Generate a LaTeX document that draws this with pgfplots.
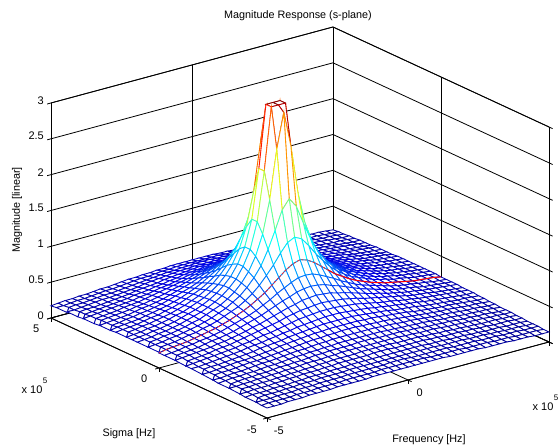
\documentclass[border=0pt]{standalone}
\usepackage{fontspec}
\setmainfont{Liberation Sans}
\usepackage{pgfplots}
\usepackage{pgfplotstable}
\pgfplotsset{compat=1.18}
\usetikzlibrary{calc}
\colorlet{edgecol}{blue!70!black}
\let\origmapdef\pgfplotscolormapdefinemappedcolor
\def\pgfplotscolormapdefinemappedcolor#1{\origmapdef{#1}\colorlet{edgecol}{mapped color}\colorlet{mapped color}{white}}
\let\origfill\pgfsetfillcolor
\def\pgfsetfillcolor#1{\origfill{white}}
\pgfplotstableread{
i z
0 0.14
1 0.14
2 0.14
3 0.15
4 0.15
5 0.15
6 0.16
7 0.16
8 0.16
9 0.16
10 0.17
11 0.17
12 0.17
13 0.17
14 0.17
15 0.18
16 0.18
17 0.18
18 0.18
19 0.18
20 0.18
21 0.18
22 0.18
23 0.18
24 0.18
25 0.18
26 0.17
27 0.17
28 0.17
29 0.17
30 0.17
31 0.16
32 0.16
33 0.16
34 0.16
35 0.15
36 0.15
37 0.15
38 0.14
39 0.14
40 0.14
0 0.14
1 0.15
2 0.15
3 0.15
4 0.15
5 0.16
6 0.16
7 0.16
8 0.17
9 0.17
10 0.17
11 0.17
12 0.18
13 0.18
14 0.18
15 0.18
16 0.18
17 0.19
18 0.19
19 0.19
20 0.19
21 0.19
22 0.19
23 0.19
24 0.18
25 0.18
26 0.18
27 0.18
28 0.18
29 0.17
30 0.17
31 0.17
32 0.17
33 0.16
34 0.16
35 0.16
36 0.15
37 0.15
38 0.15
39 0.15
40 0.14
0 0.15
1 0.15
2 0.15
3 0.16
4 0.16
5 0.16
6 0.17
7 0.17
8 0.17
9 0.18
10 0.18
11 0.18
12 0.18
13 0.19
14 0.19
15 0.19
16 0.19
17 0.19
18 0.19
19 0.20
20 0.20
21 0.20
22 0.19
23 0.19
24 0.19
25 0.19
26 0.19
27 0.19
28 0.18
29 0.18
30 0.18
31 0.18
32 0.17
33 0.17
34 0.17
35 0.16
36 0.16
37 0.16
38 0.15
39 0.15
40 0.15
0 0.15
1 0.15
2 0.16
3 0.16
4 0.16
5 0.17
6 0.17
7 0.18
8 0.18
9 0.18
10 0.19
11 0.19
12 0.19
13 0.19
14 0.20
15 0.20
16 0.20
17 0.20
18 0.20
19 0.20
20 0.20
21 0.20
22 0.20
23 0.20
24 0.20
25 0.20
26 0.20
27 0.19
28 0.19
29 0.19
30 0.19
31 0.18
32 0.18
33 0.18
34 0.17
35 0.17
36 0.16
37 0.16
38 0.16
39 0.15
40 0.15
0 0.15
1 0.16
2 0.16
3 0.16
4 0.17
5 0.17
6 0.17
7 0.18
8 0.18
9 0.19
10 0.19
11 0.19
12 0.20
13 0.20
14 0.20
15 0.21
16 0.21
17 0.21
18 0.21
19 0.21
20 0.21
21 0.21
22 0.21
23 0.21
24 0.21
25 0.21
26 0.20
27 0.20
28 0.20
29 0.19
30 0.19
31 0.19
32 0.18
33 0.18
34 0.17
35 0.17
36 0.17
37 0.16
38 0.16
39 0.16
40 0.15
0 0.16
1 0.16
2 0.17
3 0.17
4 0.17
5 0.18
6 0.18
7 0.19
8 0.19
9 0.20
10 0.20
11 0.20
12 0.21
13 0.21
14 0.22
15 0.22
16 0.22
17 0.22
18 0.22
19 0.23
20 0.23
21 0.23
22 0.22
23 0.22
24 0.22
25 0.22
26 0.22
27 0.21
28 0.21
29 0.20
30 0.20
31 0.20
32 0.19
33 0.19
34 0.18
35 0.18
36 0.17
37 0.17
38 0.17
39 0.16
40 0.16
0 0.16
1 0.17
2 0.17
3 0.18
4 0.18
5 0.18
6 0.19
7 0.19
8 0.20
9 0.20
10 0.21
11 0.21
12 0.22
13 0.22
14 0.23
15 0.23
16 0.23
17 0.23
18 0.24
19 0.24
20 0.24
21 0.24
22 0.24
23 0.23
24 0.23
25 0.23
26 0.23
27 0.22
28 0.22
29 0.21
30 0.21
31 0.20
32 0.20
33 0.19
34 0.19
35 0.18
36 0.18
37 0.18
38 0.17
39 0.17
40 0.16
0 0.17
1 0.17
2 0.18
3 0.18
4 0.19
5 0.19
6 0.20
7 0.20
8 0.21
9 0.21
10 0.22
11 0.23
12 0.23
13 0.23
14 0.24
15 0.24
16 0.25
17 0.25
18 0.25
19 0.25
20 0.25
21 0.25
22 0.25
23 0.25
24 0.25
25 0.24
26 0.24
27 0.23
28 0.23
29 0.23
30 0.22
31 0.21
32 0.21
33 0.20
34 0.20
35 0.19
36 0.19
37 0.18
38 0.18
39 0.17
40 0.17
0 0.17
1 0.17
2 0.18
3 0.19
4 0.19
5 0.20
6 0.20
7 0.21
8 0.22
9 0.22
10 0.23
11 0.23
12 0.24
13 0.25
14 0.25
15 0.26
16 0.26
17 0.26
18 0.26
19 0.27
20 0.27
21 0.27
22 0.26
23 0.26
24 0.26
25 0.26
26 0.25
27 0.25
28 0.24
29 0.23
30 0.23
31 0.22
32 0.22
33 0.21
34 0.20
35 0.20
36 0.19
37 0.19
38 0.18
39 0.17
40 0.17
0 0.17
1 0.18
2 0.19
3 0.19
4 0.20
5 0.20
6 0.21
7 0.22
8 0.22
9 0.23
10 0.24
11 0.25
12 0.25
13 0.26
14 0.26
15 0.27
16 0.27
17 0.28
18 0.28
19 0.28
20 0.28
21 0.28
22 0.28
23 0.28
24 0.27
25 0.27
26 0.26
27 0.26
28 0.25
29 0.25
30 0.24
31 0.23
32 0.22
33 0.22
34 0.21
35 0.20
36 0.20
37 0.19
38 0.19
39 0.18
40 0.17
0 0.18
1 0.18
2 0.19
3 0.20
4 0.20
5 0.21
6 0.22
7 0.23
8 0.23
9 0.24
10 0.25
11 0.26
12 0.27
13 0.27
14 0.28
15 0.29
16 0.29
17 0.30
18 0.30
19 0.30
20 0.30
21 0.30
22 0.30
23 0.30
24 0.29
25 0.29
26 0.28
27 0.27
28 0.27
29 0.26
30 0.25
31 0.24
32 0.23
33 0.23
34 0.22
35 0.21
36 0.20
37 0.20
38 0.19
39 0.18
40 0.18
0 0.18
1 0.19
2 0.20
3 0.20
4 0.21
5 0.22
6 0.23
7 0.23
8 0.24
9 0.25
10 0.26
11 0.27
12 0.28
13 0.29
14 0.30
15 0.31
16 0.31
17 0.32
18 0.32
19 0.33
20 0.33
21 0.33
22 0.32
23 0.32
24 0.31
25 0.31
26 0.30
27 0.29
28 0.28
29 0.27
30 0.26
31 0.25
32 0.24
33 0.23
34 0.23
35 0.22
36 0.21
37 0.20
38 0.20
39 0.19
40 0.18
0 0.19
1 0.19
2 0.20
3 0.21
4 0.22
5 0.23
6 0.23
7 0.24
8 0.25
9 0.26
10 0.27
11 0.29
12 0.30
13 0.31
14 0.32
15 0.33
16 0.34
17 0.34
18 0.35
19 0.35
20 0.35
21 0.35
22 0.35
23 0.34
24 0.34
25 0.33
26 0.32
27 0.31
28 0.30
29 0.29
30 0.27
31 0.26
32 0.25
33 0.24
34 0.23
35 0.23
36 0.22
37 0.21
38 0.20
39 0.19
40 0.19
0 0.19
1 0.20
2 0.21
3 0.21
4 0.22
5 0.23
6 0.24
7 0.25
8 0.26
9 0.28
10 0.29
11 0.30
12 0.31
13 0.33
14 0.34
15 0.35
16 0.36
17 0.37
18 0.38
19 0.38
20 0.38
21 0.38
22 0.38
23 0.37
24 0.36
25 0.35
26 0.34
27 0.33
28 0.31
29 0.30
30 0.29
31 0.28
32 0.26
33 0.25
34 0.24
35 0.23
36 0.22
37 0.21
38 0.21
39 0.20
40 0.19
0 0.20
1 0.20
2 0.21
3 0.22
4 0.23
5 0.24
6 0.25
7 0.26
8 0.28
9 0.29
10 0.30
11 0.32
12 0.33
13 0.35
14 0.36
15 0.38
16 0.39
17 0.40
18 0.41
19 0.42
20 0.42
21 0.42
22 0.41
23 0.40
24 0.39
25 0.38
26 0.36
27 0.35
28 0.33
29 0.32
30 0.30
31 0.29
32 0.28
33 0.26
34 0.25
35 0.24
36 0.23
37 0.22
38 0.21
39 0.20
40 0.20
0 0.20
1 0.21
2 0.22
3 0.23
4 0.24
5 0.25
6 0.26
7 0.27
8 0.29
9 0.30
10 0.32
11 0.34
12 0.35
13 0.37
14 0.39
15 0.41
16 0.43
17 0.44
18 0.45
19 0.46
20 0.46
21 0.46
22 0.45
23 0.44
24 0.43
25 0.41
26 0.39
27 0.37
28 0.35
29 0.34
30 0.32
31 0.30
32 0.29
33 0.27
34 0.26
35 0.25
36 0.24
37 0.23
38 0.22
39 0.21
40 0.20
0 0.20
1 0.21
2 0.22
3 0.23
4 0.24
5 0.26
6 0.27
7 0.28
8 0.30
9 0.32
10 0.34
11 0.36
12 0.38
13 0.40
14 0.42
15 0.45
16 0.47
17 0.49
18 0.50
19 0.51
20 0.52
21 0.51
22 0.50
23 0.49
24 0.47
25 0.45
26 0.42
27 0.40
28 0.38
29 0.36
30 0.34
31 0.32
32 0.30
33 0.28
34 0.27
35 0.26
36 0.24
37 0.23
38 0.22
39 0.21
40 0.20
0 0.21
1 0.22
2 0.23
3 0.24
4 0.25
5 0.26
6 0.28
7 0.29
8 0.31
9 0.33
10 0.35
11 0.38
12 0.40
13 0.43
14 0.46
15 0.49
16 0.52
17 0.54
18 0.57
19 0.58
20 0.59
21 0.58
22 0.57
23 0.54
24 0.52
25 0.49
26 0.46
27 0.43
28 0.40
29 0.38
30 0.35
31 0.33
32 0.31
33 0.29
34 0.28
35 0.26
36 0.25
37 0.24
38 0.23
39 0.22
40 0.21
0 0.21
1 0.22
2 0.23
3 0.24
4 0.25
5 0.27
6 0.29
7 0.30
8 0.32
9 0.34
10 0.37
11 0.40
12 0.43
13 0.46
14 0.50
15 0.54
16 0.58
17 0.61
18 0.65
19 0.67
20 0.68
21 0.67
22 0.65
23 0.61
24 0.58
25 0.54
26 0.50
27 0.46
28 0.43
29 0.40
30 0.37
31 0.34
32 0.32
33 0.30
34 0.29
35 0.27
36 0.25
37 0.24
38 0.23
39 0.22
40 0.21
0 0.21
1 0.22
2 0.23
3 0.25
4 0.26
5 0.28
6 0.29
7 0.31
8 0.33
9 0.36
10 0.39
11 0.42
12 0.45
13 0.49
14 0.54
15 0.59
16 0.65
17 0.70
18 0.75
19 0.79
20 0.80
21 0.79
22 0.75
23 0.70
24 0.65
25 0.59
26 0.54
27 0.49
28 0.45
29 0.42
30 0.39
31 0.36
32 0.33
33 0.31
34 0.29
35 0.28
36 0.26
37 0.25
38 0.23
39 0.22
40 0.21
0 0.21
1 0.23
2 0.24
3 0.25
4 0.26
5 0.28
6 0.30
7 0.32
8 0.34
9 0.37
10 0.40
11 0.44
12 0.48
13 0.53
14 0.59
15 0.65
16 0.73
17 0.81
18 0.89
19 0.95
20 0.98
21 0.95
22 0.89
23 0.81
24 0.73
25 0.65
26 0.59
27 0.53
28 0.48
29 0.44
30 0.40
31 0.37
32 0.34
33 0.32
34 0.30
35 0.28
36 0.26
37 0.25
38 0.24
39 0.23
40 0.21
0 0.22
1 0.23
2 0.24
3 0.25
4 0.27
5 0.29
6 0.30
7 0.33
8 0.35
9 0.38
10 0.42
11 0.46
12 0.50
13 0.56
14 0.63
15 0.72
16 0.83
17 0.95
18 1.09
19 1.21
20 1.26
21 1.21
22 1.09
23 0.95
24 0.83
25 0.72
26 0.63
27 0.56
28 0.50
29 0.46
30 0.42
31 0.38
32 0.35
33 0.33
34 0.30
35 0.29
36 0.27
37 0.25
38 0.24
39 0.23
40 0.22
0 0.22
1 0.23
2 0.24
3 0.26
4 0.27
5 0.29
6 0.31
7 0.33
8 0.36
9 0.39
10 0.43
11 0.47
12 0.53
13 0.59
14 0.68
15 0.79
16 0.93
17 1.13
18 1.37
19 1.63
20 1.76
21 1.63
22 1.37
23 1.13
24 0.93
25 0.79
26 0.68
27 0.59
28 0.53
29 0.47
30 0.43
31 0.39
32 0.36
33 0.33
34 0.31
35 0.29
36 0.27
37 0.26
38 0.24
39 0.23
40 0.22
0 0.22
1 0.23
2 0.24
3 0.26
4 0.27
5 0.29
6 0.31
7 0.34
8 0.36
9 0.40
10 0.44
11 0.48
12 0.54
13 0.61
14 0.71
15 0.84
16 1.03
17 1.31
18 1.76
19 2.44
20 2.93
21 2.44
22 1.76
23 1.31
24 1.03
25 0.84
26 0.71
27 0.61
28 0.54
29 0.48
30 0.44
31 0.40
32 0.36
33 0.34
34 0.31
35 0.29
36 0.27
37 0.26
38 0.24
39 0.23
40 0.22
0 0.22
1 0.23
2 0.24
3 0.26
4 0.27
5 0.29
6 0.31
7 0.34
8 0.37
9 0.40
10 0.44
11 0.49
12 0.55
13 0.63
14 0.73
15 0.88
16 1.09
17 1.45
18 2.13
19 3.00
20 3.00
21 3.00
22 2.13
23 1.45
24 1.09
25 0.88
26 0.73
27 0.63
28 0.55
29 0.49
30 0.44
31 0.40
32 0.37
33 0.34
34 0.31
35 0.29
36 0.27
37 0.26
38 0.24
39 0.23
40 0.22
0 0.22
1 0.23
2 0.24
3 0.26
4 0.27
5 0.29
6 0.31
7 0.34
8 0.37
9 0.40
10 0.44
11 0.49
12 0.55
13 0.63
14 0.73
15 0.88
16 1.09
17 1.45
18 2.13
19 3.00
20 3.00
21 3.00
22 2.13
23 1.45
24 1.09
25 0.88
26 0.73
27 0.63
28 0.55
29 0.49
30 0.44
31 0.40
32 0.37
33 0.34
34 0.31
35 0.29
36 0.27
37 0.26
38 0.24
39 0.23
40 0.22
0 0.22
1 0.23
2 0.24
3 0.26
4 0.27
5 0.29
6 0.31
7 0.34
8 0.36
9 0.40
10 0.44
11 0.48
12 0.54
13 0.61
14 0.71
15 0.84
16 1.03
17 1.31
18 1.76
19 2.44
20 2.93
21 2.44
22 1.76
23 1.31
24 1.03
25 0.84
26 0.71
27 0.61
28 0.54
29 0.48
30 0.44
31 0.40
32 0.36
33 0.34
34 0.31
35 0.29
36 0.27
37 0.26
38 0.24
39 0.23
40 0.22
0 0.22
1 0.23
2 0.24
3 0.26
4 0.27
5 0.29
6 0.31
7 0.33
8 0.36
9 0.39
10 0.43
11 0.47
12 0.53
13 0.59
14 0.68
15 0.79
16 0.93
17 1.13
18 1.37
19 1.63
20 1.76
21 1.63
22 1.37
23 1.13
24 0.93
25 0.79
26 0.68
27 0.59
28 0.53
29 0.47
30 0.43
31 0.39
32 0.36
33 0.33
34 0.31
35 0.29
36 0.27
37 0.26
38 0.24
39 0.23
40 0.22
0 0.22
1 0.23
2 0.24
3 0.25
4 0.27
5 0.29
6 0.30
7 0.33
8 0.35
9 0.38
10 0.42
11 0.46
12 0.50
13 0.56
14 0.63
15 0.72
16 0.83
17 0.95
18 1.09
19 1.21
20 1.26
21 1.21
22 1.09
23 0.95
24 0.83
25 0.72
26 0.63
27 0.56
28 0.50
29 0.46
30 0.42
31 0.38
32 0.35
33 0.33
34 0.30
35 0.29
36 0.27
37 0.25
38 0.24
39 0.23
40 0.22
0 0.21
1 0.23
2 0.24
3 0.25
4 0.26
5 0.28
6 0.30
7 0.32
8 0.34
9 0.37
10 0.40
11 0.44
12 0.48
13 0.53
14 0.59
15 0.65
16 0.73
17 0.81
18 0.89
19 0.95
20 0.98
21 0.95
22 0.89
23 0.81
24 0.73
25 0.65
26 0.59
27 0.53
28 0.48
29 0.44
30 0.40
31 0.37
32 0.34
33 0.32
34 0.30
35 0.28
36 0.26
37 0.25
38 0.24
39 0.23
40 0.21
0 0.21
1 0.22
2 0.23
3 0.25
4 0.26
5 0.28
6 0.29
7 0.31
8 0.33
9 0.36
10 0.39
11 0.42
12 0.45
13 0.49
14 0.54
15 0.59
16 0.65
17 0.70
18 0.75
19 0.79
20 0.80
21 0.79
22 0.75
23 0.70
24 0.65
25 0.59
26 0.54
27 0.49
28 0.45
29 0.42
30 0.39
31 0.36
32 0.33
33 0.31
34 0.29
35 0.28
36 0.26
37 0.25
38 0.23
39 0.22
40 0.21
0 0.21
1 0.22
2 0.23
3 0.24
4 0.25
5 0.27
6 0.29
7 0.30
8 0.32
9 0.34
10 0.37
11 0.40
12 0.43
13 0.46
14 0.50
15 0.54
16 0.58
17 0.61
18 0.65
19 0.67
20 0.68
21 0.67
22 0.65
23 0.61
24 0.58
25 0.54
26 0.50
27 0.46
28 0.43
29 0.40
30 0.37
31 0.34
32 0.32
33 0.30
34 0.29
35 0.27
36 0.25
37 0.24
38 0.23
39 0.22
40 0.21
0 0.21
1 0.22
2 0.23
3 0.24
4 0.25
5 0.26
6 0.28
7 0.29
8 0.31
9 0.33
10 0.35
11 0.38
12 0.40
13 0.43
14 0.46
15 0.49
16 0.52
17 0.54
18 0.57
19 0.58
20 0.59
21 0.58
22 0.57
23 0.54
24 0.52
25 0.49
26 0.46
27 0.43
28 0.40
29 0.38
30 0.35
31 0.33
32 0.31
33 0.29
34 0.28
35 0.26
36 0.25
37 0.24
38 0.23
39 0.22
40 0.21
0 0.20
1 0.21
2 0.22
3 0.23
4 0.24
5 0.26
6 0.27
7 0.28
8 0.30
9 0.32
10 0.34
11 0.36
12 0.38
13 0.40
14 0.42
15 0.45
16 0.47
17 0.49
18 0.50
19 0.51
20 0.52
21 0.51
22 0.50
23 0.49
24 0.47
25 0.45
26 0.42
27 0.40
28 0.38
29 0.36
30 0.34
31 0.32
32 0.30
33 0.28
34 0.27
35 0.26
36 0.24
37 0.23
38 0.22
39 0.21
40 0.20
0 0.20
1 0.21
2 0.22
3 0.23
4 0.24
5 0.25
6 0.26
7 0.27
8 0.29
9 0.30
10 0.32
11 0.34
12 0.35
13 0.37
14 0.39
15 0.41
16 0.43
17 0.44
18 0.45
19 0.46
20 0.46
21 0.46
22 0.45
23 0.44
24 0.43
25 0.41
26 0.39
27 0.37
28 0.35
29 0.34
30 0.32
31 0.30
32 0.29
33 0.27
34 0.26
35 0.25
36 0.24
37 0.23
38 0.22
39 0.21
40 0.20
0 0.20
1 0.20
2 0.21
3 0.22
4 0.23
5 0.24
6 0.25
7 0.26
8 0.28
9 0.29
10 0.30
11 0.32
12 0.33
13 0.35
14 0.36
15 0.38
16 0.39
17 0.40
18 0.41
19 0.42
20 0.42
21 0.42
22 0.41
23 0.40
24 0.39
25 0.38
26 0.36
27 0.35
28 0.33
29 0.32
30 0.30
31 0.29
32 0.28
33 0.26
34 0.25
35 0.24
36 0.23
37 0.22
38 0.21
39 0.20
40 0.20
0 0.19
1 0.20
2 0.21
3 0.21
4 0.22
5 0.23
6 0.24
7 0.25
8 0.26
9 0.28
10 0.29
11 0.30
12 0.31
13 0.33
14 0.34
15 0.35
16 0.36
17 0.37
18 0.38
19 0.38
20 0.38
21 0.38
22 0.38
23 0.37
24 0.36
25 0.35
26 0.34
27 0.33
28 0.31
29 0.30
30 0.29
31 0.28
32 0.26
33 0.25
34 0.24
35 0.23
36 0.22
37 0.21
38 0.21
39 0.20
40 0.19
0 0.19
1 0.19
2 0.20
3 0.21
4 0.22
5 0.23
6 0.23
7 0.24
8 0.25
9 0.26
10 0.27
11 0.29
12 0.30
13 0.31
14 0.32
15 0.33
16 0.34
17 0.34
18 0.35
19 0.35
20 0.35
21 0.35
22 0.35
23 0.34
24 0.34
25 0.33
26 0.32
27 0.31
28 0.30
29 0.29
30 0.27
31 0.26
32 0.25
33 0.24
34 0.23
35 0.23
36 0.22
37 0.21
38 0.20
39 0.19
40 0.19
0 0.18
1 0.19
2 0.20
3 0.20
4 0.21
5 0.22
6 0.23
7 0.23
8 0.24
9 0.25
10 0.26
11 0.27
12 0.28
13 0.29
14 0.30
15 0.31
16 0.31
17 0.32
18 0.32
19 0.33
20 0.33
21 0.33
22 0.32
23 0.32
24 0.31
25 0.31
26 0.30
27 0.29
28 0.28
29 0.27
30 0.26
31 0.25
32 0.24
33 0.23
34 0.23
35 0.22
36 0.21
37 0.20
38 0.20
39 0.19
40 0.18
0 0.18
1 0.18
2 0.19
3 0.20
4 0.20
5 0.21
6 0.22
7 0.23
8 0.23
9 0.24
10 0.25
11 0.26
12 0.27
13 0.27
14 0.28
15 0.29
16 0.29
17 0.30
18 0.30
19 0.30
20 0.30
21 0.30
22 0.30
23 0.30
24 0.29
25 0.29
26 0.28
27 0.27
28 0.27
29 0.26
30 0.25
31 0.24
32 0.23
33 0.23
34 0.22
35 0.21
36 0.20
37 0.20
38 0.19
39 0.18
40 0.18
0 0.17
1 0.18
2 0.19
3 0.19
4 0.20
5 0.20
6 0.21
7 0.22
8 0.22
9 0.23
10 0.24
11 0.25
12 0.25
13 0.26
14 0.26
15 0.27
16 0.27
17 0.28
18 0.28
19 0.28
20 0.28
21 0.28
22 0.28
23 0.28
24 0.27
25 0.27
26 0.26
27 0.26
28 0.25
29 0.25
30 0.24
31 0.23
32 0.22
33 0.22
34 0.21
35 0.20
36 0.20
37 0.19
38 0.19
39 0.18
40 0.17
}\surfdata
\begin{document}
\begin{tikzpicture}
\begin{axis}[
  x={(28.2pt,7.6pt)}, y={(-21.6pt,10pt)}, z={(0pt,71.67pt)},
  xmin=-5,xmax=5,ymin=-5,ymax=5,zmin=0,zmax=3,
  xtick={-5,0,5},ytick={-5,0,5},ztick={0,0.5,1,1.5,2,2.5,3},
  tick pos=left,
  grid=major,
  grid style={black,line width=0.8pt},
  axis line style={line width=0.8pt},
  tick style={black,line width=0.8pt},
  tick align=outside,
  major tick length=4pt,
  clip=false,
  colormap={mjet}{rgb=(0,0,0.4) rgb=(0,0,0.9) rgb=(0,0.5,1) rgb=(0,1,1) rgb=(0.5,1,0.5) rgb=(1,1,0) rgb=(1,0.5,0) rgb=(1,0,0) rgb=(0.5,0,0)},
  point meta min=0, point meta max=3,
  /pgf/number format/assume math mode=true,
  tick label style={font=\fontsize{11}{11}\selectfont},
  xticklabel style={xshift=3pt,yshift=-3pt},
  yticklabel style={xshift=-5pt,yshift=-2pt},
]
\addplot3[surf,shader=faceted,faceted color=edgecol,line width=0.85pt,z buffer=sort,mesh/cols=41,mesh/rows=41]
  table[x index=0,y index=0,z index=1,x expr={-5+0.25*\thisrow{i}},y expr={-5+0.25*floor(\coordindex/41)}]{\surfdata};
\addplot3[red!85!white,line width=0.8pt,dash pattern=on 2.5pt off 1.5pt] coordinates {
(-5,0,0.21)(-4.75,0,0.23)(-4.5,0,0.24)(-4.25,0,0.25)(-4,0,0.26)(-3.75,0,0.28)(-3.5,0,0.30)(-3.25,0,0.32)(-3,0,0.34)(-2.75,0,0.37)(-2.5,0,0.40)(-2.25,0,0.44)(-2,0,0.48)(-1.75,0,0.53)(-1.5,0,0.59)(-1.25,0,0.65)(-1,0,0.73)(-0.75,0,0.81)(-0.5,0,0.89)(-0.25,0,0.95)(0,0,0.98)(0.25,0,0.95)(0.5,0,0.89)(0.75,0,0.81)(1,0,0.73)};
\addplot3[red,line width=1pt] coordinates {
(1,0,0.73)(1.25,0,0.65)(1.5,0,0.59)(1.75,0,0.53)(2,0,0.48)(2.25,0,0.44)(2.5,0,0.40)(2.75,0,0.37)(3,0,0.34)(3.25,0,0.32)(3.5,0,0.30)(3.75,0,0.28)(4,0,0.26)(4.25,0,0.25)(4.5,0,0.24)(4.75,0,0.23)(5,0,0.21)};
\coordinate (FC) at (axis cs:-5,-5,0);
\end{axis}
\begin{scope}[shift={(FC)},x=1pt,y=1pt,every node/.style={inner sep=0pt,font=\fontsize{10.8}{11}\selectfont}]
\node at (31,402) {Magnitude Response (s-plane)};
\node at (-138,-16) {Sigma [Hz]};
\node at (162,-22) {Frequency [Hz]};
\node[rotate=90] at (-250,208) {Magnitude [linear]};
\node[font=\fontsize{11}{11}\selectfont] at (-235,28) {x 10};
\node[font=\fontsize{8}{8}\selectfont] at (-222,37) {5};
\node[font=\fontsize{11}{11}\selectfont] at (276,11) {x 10};
\node[font=\fontsize{8}{8}\selectfont] at (289,20) {5};
\end{scope}
\pgfresetboundingbox
\path[use as bounding box] ($(FC)+(-267pt,-30pt)$) rectangle ($(FC)+(291pt,418pt)$);
\end{tikzpicture}
\end{document}
